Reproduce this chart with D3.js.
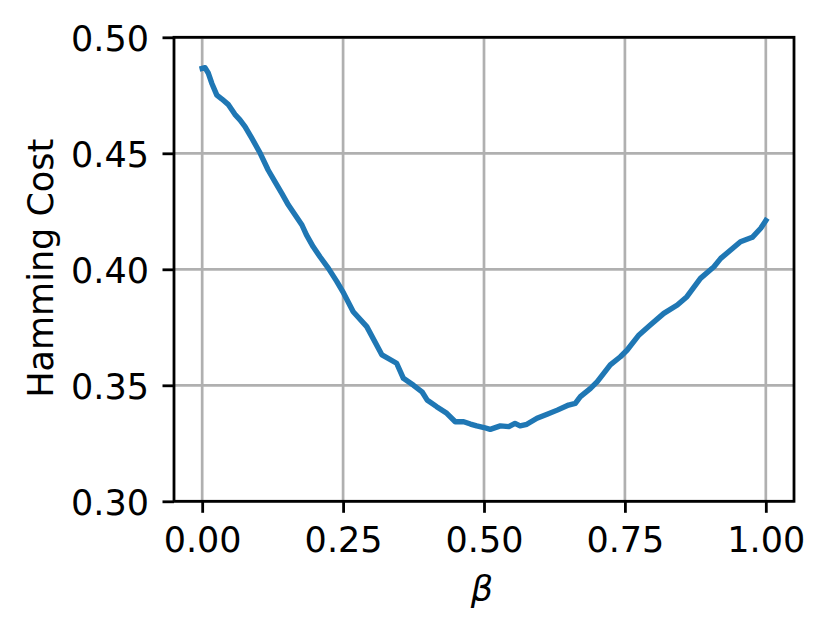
<!DOCTYPE html>
<html>
<head>
<meta charset="utf-8">
<script src="https://cdn.jsdelivr.net/npm/d3@7"></script>
<style>
  html, body { margin: 0; padding: 0; background: #fff; }
  svg { display: block; }
  text { font-family: "DejaVu Sans", sans-serif; }
</style>
</head>
<body>
<svg id="chart" width="832" height="636"></svg>
<script>
// ---- data ----
const beta = [0.000, 0.005, 0.011, 0.017, 0.026, 0.035, 0.046, 0.058, 0.067, 0.076, 0.088,
  0.103, 0.117, 0.129, 0.141, 0.153, 0.165, 0.177, 0.185, 0.197, 0.209, 0.224, 0.239,
  0.251, 0.268, 0.292, 0.319, 0.345, 0.357, 0.375, 0.390, 0.399, 0.416, 0.434, 0.449,
  0.464, 0.476, 0.487, 0.500, 0.511, 0.529, 0.544, 0.555, 0.564, 0.576, 0.594, 0.612,
  0.630, 0.650, 0.662, 0.671, 0.689, 0.701, 0.724, 0.742, 0.754, 0.775, 0.795, 0.819,
  0.843, 0.860, 0.884, 0.908, 0.920, 0.955, 0.976, 0.991, 1.000];
const cost = [0.4866, 0.4869, 0.4845, 0.4802, 0.4751, 0.4734, 0.4711, 0.4668, 0.4644, 0.4615, 0.4565,
  0.4500, 0.4428, 0.4378, 0.4328, 0.4277, 0.4234, 0.4191, 0.4148, 0.4097, 0.4054, 0.4004, 0.3947,
  0.3897, 0.3817, 0.3753, 0.3631, 0.3595, 0.3530, 0.3500, 0.3472, 0.3437, 0.3408, 0.3379, 0.3343,
  0.3343, 0.3333, 0.3325, 0.3318, 0.3310, 0.3325, 0.3322, 0.3336, 0.3325, 0.3332, 0.3358, 0.3375,
  0.3393, 0.3415, 0.3422, 0.3451, 0.3487, 0.3516, 0.3588, 0.3623, 0.3652, 0.3717, 0.3760, 0.3810,
  0.3846, 0.3882, 0.3961, 0.4011, 0.4047, 0.4119, 0.4138, 0.4177, 0.4210];
const xTicks = [0.00, 0.25, 0.50, 0.75, 1.00];
const yTicks = [0.30, 0.35, 0.40, 0.45, 0.50];
const xLabel = "β";
const yLabel = "Hamming Cost";

// ---- layout ----
const L = 174, R = 794, T = 37.3, B = 501.3;
const FS = "35px";
const svg = d3.select("#chart");
const x = d3.scaleLinear().domain([-0.05, 1.05]).range([L, R]);
const y = d3.scaleLinear().domain([0.30, 0.50]).range([B, T]);

// grid
const grid = svg.append("g").attr("stroke", "#b0b0b0").attr("stroke-width", 2.7);
grid.selectAll("line.gx").data(xTicks).join("line")
  .attr("x1", d => x(d)).attr("x2", d => x(d)).attr("y1", T).attr("y2", B);
grid.selectAll("line.gy").data(yTicks).join("line")
  .attr("y1", d => y(d)).attr("y2", d => y(d)).attr("x1", L).attr("x2", R);

// curve
const pts = beta.map((b, i) => [b, cost[i]]);
svg.append("path").datum(pts)
  .attr("fill", "none").attr("stroke", "#1f77b4").attr("stroke-width", 5.4)
  .attr("stroke-linejoin", "round").attr("stroke-linecap", "square")
  .attr("d", d3.line().x(d => x(d[0])).y(d => y(d[1])));

// axes
const xAxis = d3.axisBottom(x).tickValues(xTicks).tickFormat(d3.format(".2f"))
  .tickSizeInner(11.5).tickSizeOuter(0).tickPadding(14);
const yAxis = d3.axisLeft(y).tickValues(yTicks).tickFormat(d3.format(".2f"))
  .tickSizeInner(11.5).tickSizeOuter(0).tickPadding(14);

const gx = svg.append("g").attr("transform", `translate(0,${B})`).call(xAxis);
const gy = svg.append("g").attr("transform", `translate(${L},0)`).call(yAxis);
[gx, gy].forEach(g => {
  g.select(".domain").remove();
  g.selectAll(".tick line").attr("stroke", "#000").attr("stroke-width", 2.8);
  g.selectAll(".tick text").attr("fill", "#000")
    .style("font-family", "'DejaVu Sans', sans-serif").style("font-size", FS);
});
gx.selectAll(".tick text").attr("dy", null).attr("y", 50.3);
gy.selectAll(".tick text").attr("dy", null).attr("y", 12.8).attr("x", -25);

// spines
svg.append("rect").attr("x", L).attr("y", T).attr("width", R - L).attr("height", B - T)
  .attr("fill", "none").attr("stroke", "#000").attr("stroke-width", 2.8);

// labels
svg.append("text").attr("x", (L + R) / 2 - 2).attr("y", 600.5)
  .attr("text-anchor", "middle").style("font-size", FS).style("font-style", "italic")
  .text(xLabel);
svg.append("text").attr("transform", `translate(53,${(T + B) / 2 - 1}) rotate(-90)`)
  .attr("text-anchor", "middle").style("font-size", FS).text(yLabel);
</script>
</body>
</html>
